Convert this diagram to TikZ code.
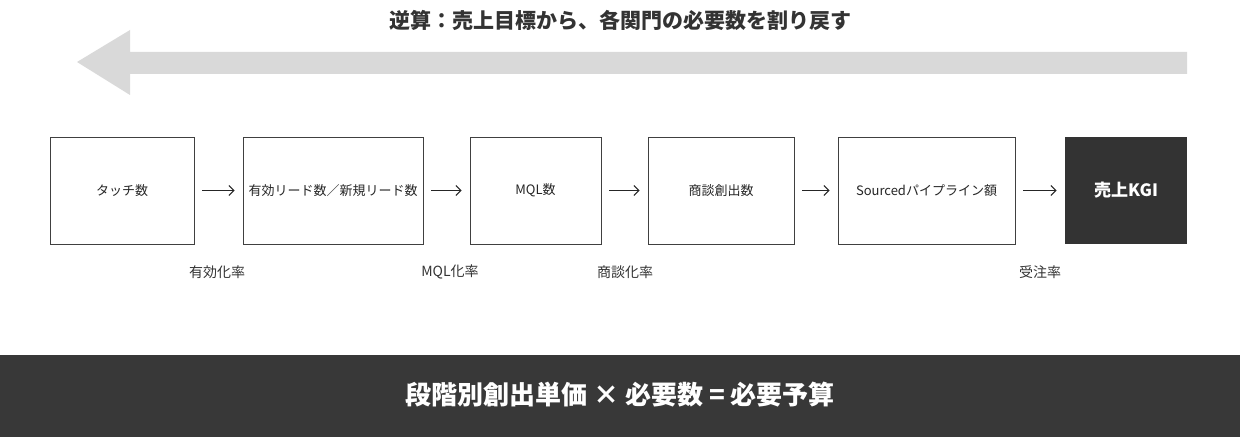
\documentclass[tikz,border=0pt]{standalone}
\usepackage{fontspec}
\usetikzlibrary{arrows.meta}
\setmainfont{Noto Sans CJK JP}
\begin{document}
\begin{tikzpicture}[x=1pt,y=-1pt,
  box/.style={draw=black!75,line width=0.8pt,fill=white,minimum height=107pt,inner sep=0pt,font=\fontsize{13}{15}\selectfont,text=black!85},
  rate/.style={font=\fontsize{14}{16}\selectfont,text=black!80},
  conn/.style={-{Straight Barb[length=5pt,width=10pt]},line width=1pt,black!85,shorten <=8pt,shorten >=8pt}]
\useasboundingbox (0,0) rectangle (1240,446);
\node[font=\bfseries\fontsize{21}{24}\selectfont,text=black!80] (title) at (620,20) {逆算：売上目標から、各関門の必要数を割り戻す};
\fill[black!15] (1187,52) -- (130,52) -- (130,30) -- (77,62) -- (130,95) -- (130,74) -- (1187,74) -- cycle;
\node[box,minimum width=144pt] (b1) at (122,190.5) {タッチ数};
\node[box,minimum width=180pt] (b2) at (333,190.5) {有効リード数／新規リード数};
\node[box,minimum width=131pt] (b3) at (535.5,190.5) {MQL数};
\node[box,minimum width=146pt] (b4) at (721,190.5) {商談創出数};
\node[box,minimum width=177pt] (b5) at (926.5,190.5) {Sourcedパイプライン額};
\node[box,draw=none,fill=black!80,text=white,minimum width=122pt,font=\bfseries\fontsize{17}{20}\selectfont] (b6) at (1126,190.5) {売上KGI};
\draw[conn] (b1) -- (b2);
\draw[conn] (b2) -- (b3);
\draw[conn] (b3) -- (b4);
\draw[conn] (b4) -- (b5);
\draw[conn] (b5) -- (b6);
\node[rate] (r1) at (217,272) {有効化率};
\node[rate] (r2) at (450,272) {MQL化率};
\node[rate] (r3) at (625,272) {商談化率};
\node[rate] (r4) at (1040,272) {受注率};
\fill[black!78] (0,355) rectangle (1240,437);
\node[font=\bfseries\fontsize{26}{30}\selectfont,text=white] (formula) at (620,395) {段階別創出単価 × 必要数 = 必要予算};
\end{tikzpicture}
\end{document}
